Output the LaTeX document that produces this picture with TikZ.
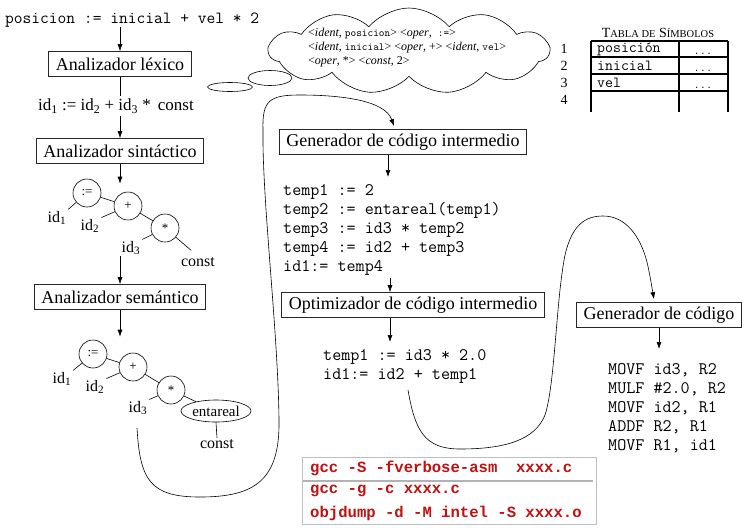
\documentclass[tikz,border=0pt]{standalone}
\usepackage{fontspec}
\setmainfont{Liberation Serif}
\newfontfamily\cmdfont{Liberation Mono}
\usetikzlibrary{arrows.meta,shapes.symbols,shapes.geometric,calc}
\definecolor{cmdred}{RGB}{192,16,16}
\begin{document}
\begin{tikzpicture}[x=1pt,y=-1pt,
  stagebox/.style={draw=black!85, line width=0.7pt, font=\fontsize{18}{21}\selectfont, inner xsep=7pt, inner ysep=2pt, minimum height=25pt},
  arr/.style={-{Latex[length=7pt,width=5pt]}, line width=0.6pt},
  edge/.style={line width=0.6pt},
  opnode/.style={circle, draw, line width=0.6pt, minimum size=28pt, inner sep=0pt, font=\fontsize{13}{13}\selectfont},
  lbl/.style={font=\fontsize{16}{16}\selectfont, inner sep=1pt},
  codeblk/.style={font=\ttfamily\fontsize{17.6}{19}\selectfont, align=left, anchor=north west, inner sep=0pt},
  cmd/.style={font=\cmdfont\bfseries\fontsize{15.6}{15.6}\selectfont, text=cmdred, anchor=west, inner sep=0pt}
]
\useasboundingbox (0,0) rectangle (746,528);

% ---- left column ----
\node[font=\ttfamily\fontsize{17}{17}\selectfont, anchor=west, inner sep=0pt] (src) at (5,20) {posicion := inicial + vel * 2};
\node[stagebox] (lex) at (120,64) {Analizador léxico};
\draw[arr] (lex.north |- src.south) -- (lex.north);
\node[font=\fontsize{17}{17}\selectfont, inner sep=0pt] (tok) at (116,106) {id\textsubscript{1} := id\textsubscript{2} + id\textsubscript{3} *\ \,const};
\draw[edge, shorten >=3pt] (lex.south) -- (lex.south |- tok.north);
\node[stagebox] (sin) at (120,151) {Analizador sintáctico};
\draw[arr, shorten <=3pt] (sin.north |- tok.south) -- (sin.north);

% tree 1
\node[opnode] (c1) at (87,193) {:=};
\node[opnode] (c2) at (128,206) {+};
\node[opnode] (c3) at (165,228) {*};
\node[lbl] (i1) at (57,218) {id\textsubscript{1}};
\node[lbl] (i2) at (90,226) {id\textsubscript{2}};
\node[lbl] (i3) at (131,248) {id\textsubscript{3}};
\node[lbl] (k1) at (198,262) {const};
\draw[arr, shorten >=8pt] (sin.south) -- (sin.south |- c2.north);
\draw[edge] (c1) -- (c2);
\draw[edge] (c2) -- (c3);
\draw[edge, shorten >=1pt] (c1) -- (i1.north east);
\draw[edge, shorten >=1pt] (c2) -- (i2.north east);
\draw[edge, shorten >=1pt] (c3) -- (i3.north east);
\draw[edge, shorten >=9pt] (c3) -- (k1.north);

\node[stagebox] (sem) at (120,297) {Analizador semántico};
\draw[arr] (sem.north |- i3.south) -- (sem.north);

% tree 2
\node[opnode] (c4) at (93,354) {:=};
\node[opnode] (c5) at (133,367) {+};
\node[opnode] (c6) at (171,390) {*};
\node[ellipse, draw, line width=0.6pt, minimum width=70pt, minimum height=22pt, inner sep=0pt, font=\fontsize{15}{15}\selectfont] (ent) at (216,411) {entareal};
\node[lbl] (i4) at (62,379) {id\textsubscript{1}};
\node[lbl] (i5) at (95,387) {id\textsubscript{2}};
\node[lbl] (i6) at (138,408) {id\textsubscript{3}};
\node[lbl] (k2) at (217,444) {const};
\draw[arr, shorten >=3pt] (sem.south) -- (sem.south |- c4.north);
\draw[edge] (c4) -- (c5);
\draw[edge] (c5) -- (c6);
\draw[edge] (c6) -- (ent);
\draw[edge, shorten >=1pt] (c4) -- (i4.north east);
\draw[edge, shorten >=1pt] (c5) -- (i5.north east);
\draw[edge, shorten >=1pt] (c6) -- (i6.north east);
\draw[edge] (ent.south) -- (k2.north);

% ---- cloud ----
\node[ellipse, draw, line width=0.6pt, minimum width=45pt, minimum height=9pt, inner sep=0pt] (b1) at (230,87) {};
\node[ellipse, draw, line width=0.6pt, minimum width=44pt, minimum height=15pt, inner sep=0pt] (b2) at (270,78) {};
\node[cloud, draw, fill=white, line width=0.6pt, cloud puffs=11, cloud puff arc=100, aspect=3.3, minimum width=280pt, minimum height=86pt, inner sep=0pt] (cloud) at (409,51) {};
\node[font=\fontsize{12}{14}\selectfont, align=left, anchor=north west, inner sep=0pt] (ctext) at (308,28)
  {<\textit{ident}, {\ttfamily\fontsize{10.8}{14}\selectfont posicion}> <\textit{oper}, \ {\ttfamily\fontsize{10.8}{14}\selectfont :=}>\\
   <\textit{ident}, {\ttfamily\fontsize{10.8}{14}\selectfont inicial}> <\textit{oper}, +> <\textit{ident}, {\ttfamily\fontsize{10.8}{14}\selectfont vel}>\\
   <\textit{oper}, *> <\textit{const}, 2>};

% ---- symbol table ----
\node[inner sep=0pt, font=\fontsize{14}{14}\selectfont] (thead) at (658,33) {T{\fontsize{10.5}{10.5}\selectfont ABLA DE} S{\fontsize{10.5}{10.5}\selectfont ÍMBOLOS}};
\draw[line width=1.4pt] (591,41) -- (728,41) (591,57) -- (728,57) (591,74) -- (728,74) (591,91) -- (728,91);
\draw[line width=1.4pt] (591,41) -- (591,112) (679,41) -- (679,112) (728,41) -- (728,112);
\foreach \n/\yy in {1/49,2/66,3/83,4/100}
  \node[font=\fontsize{14}{14}\selectfont, inner sep=0pt] (rn\n) at (564,\yy) {\n};
\foreach \n/\txt/\yy in {1/posición/49,2/inicial/66,3/vel/83}{
  \node[font=\ttfamily\fontsize{15.4}{15.4}\selectfont, anchor=west, inner sep=0pt] (rt\n) at (597,\yy) {\txt};
  \node[font=\ttfamily\fontsize{12}{12}\selectfont, anchor=base, inner sep=0pt] (rd\n) at (703,\yy+5) {...};
}

% ---- intermediate code ----
\node[stagebox] (gci) at (403,142) {Generador de código intermedio};
\node[codeblk] (ci) at (283,184) {temp1 := 2\\temp2 := entareal(temp1)\\temp3 := id3 * temp2\\temp4 := id2 + temp3\\id1:= temp4};
\coordinate (ax1) at ($(gci.south)+(-15,0)$);
\draw[arr, shorten >=7pt] (ax1) -- (ax1 |- ci.north);

\node[stagebox] (opt) at (413,305) {Optimizador de código intermedio};
\coordinate (ax2) at ($(opt.north)+(-23,0)$);
\draw[arr, shorten <=3pt] (ax2 |- ci.south) -- (ax2);
\node[codeblk] (oc) at (323,349) {temp1 := id3 * 2.0\\id1:= id2 + temp1};
\coordinate (ax3) at ($(opt.south)+(-23,0)$);
\draw[arr, shorten >=7pt] (ax3) -- (ax3 |- oc.north);

% ---- target code ----
\node[stagebox] (gc) at (659,315) {Generador de código};
\node[codeblk] (tc) at (608,363) {MOVF id3, R2\\MULF \#2.0, R2\\MOVF id2, R1\\ADDF R2, R1\\MOVF R1, id1};
\draw[arr, shorten >=14pt] (gc.south) -- (gc.south |- tc.north);

% ---- curved connectors ----
\coordinate (s1) at (137,428);
\draw[arr] (s1) .. controls (140,480) and (150,497) .. (200,497)
  .. controls (255,497) and (280,480) .. (279,420)
  .. controls (278,330) and (262,200) .. (263,130)
  .. controls (262,100) and (270,95) .. (300,95)
  .. controls (340,95) and (385,100) .. ($(gci.north)+(-9,-3)$);

\coordinate (s2) at (408,390);
\draw[arr] (s2) .. controls (415,430) and (424,449) .. (460,449)
  .. controls (505,449) and (535,440) .. (545,415)
  .. controls (555,385) and (556,300) .. (565,255)
  .. controls (572,225) and (585,216) .. (603,216)
  .. controls (625,216) and (640,235) .. (647,262)
  .. controls (650,275) and (652,288) .. ($(gc.north)+(-5,-3)$);

% ---- gcc commands ----
\node[draw=black!25, line width=0.6pt, minimum width=294pt, minimum height=67pt, inner sep=0pt] (cmdbox) at (449,490.5) {};
\draw[black!30, line width=1.5pt] (303,481) -- (593,481);
\node[cmd] (cmd1) at (310,468) {gcc -S -fverbose-asm\ \ xxxx.c};
\node[cmd] (cmd2) at (310,491) {gcc -g -c xxxx.c};
\node[cmd] (cmd3) at (310,513) {objdump -d -M intel -S xxxx.o};
\end{tikzpicture}
\end{document}
